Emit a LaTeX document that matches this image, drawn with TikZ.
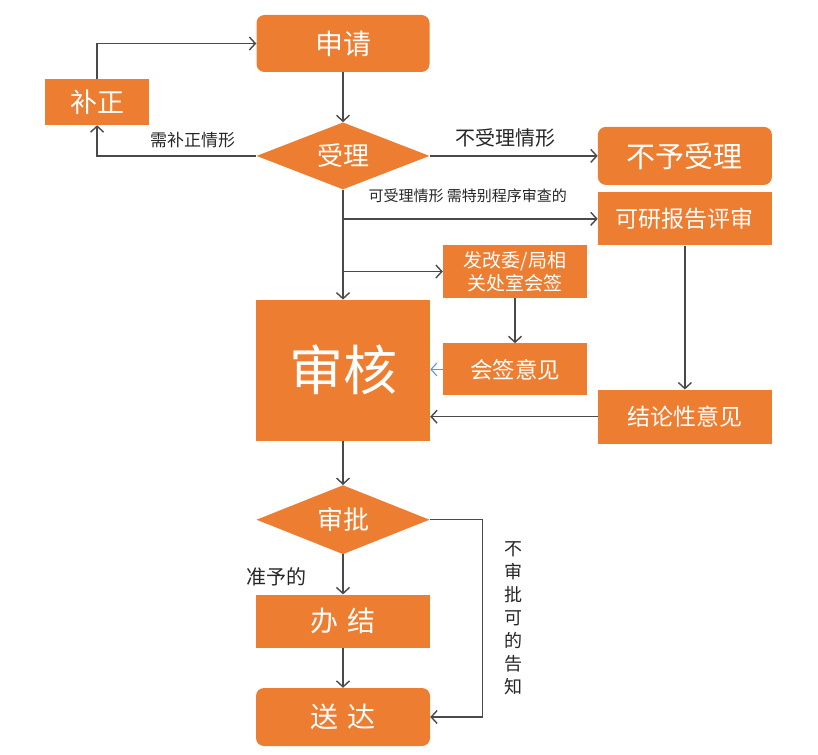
\documentclass[tikz,border=0pt]{standalone}
\usepackage{fontspec}
\setmainfont{Noto Sans CJK SC}
\usetikzlibrary{positioning, arrows.meta, shapes.geometric}

\definecolor{boxorange}{HTML}{ED7D31}
\definecolor{linegray}{HTML}{4A4A4A}
\definecolor{selblue}{HTML}{5B9BD5}

\begin{document}
\begin{tikzpicture}[
    x=1pt, y=1pt,
    node distance=50pt and 168pt,
    box/.style={fill=boxorange, text=white, minimum width=174pt, minimum height=53pt,
                inner sep=2pt, align=center, font=\fontsize{23}{26}\selectfont},
    rbox/.style={box, rounded corners=8pt},
    dia/.style={diamond, aspect=2.6, fill=boxorange, text=white, minimum width=173pt,
                minimum height=67pt, inner sep=0pt, font=\fontsize{26}{30}\selectfont},
    arr/.style={-{Straight Barb[length=6pt, width=13pt]}, draw=linegray, line width=1.4pt},
    lbl/.style={text=black!85, font=\fontsize{17}{19}\selectfont}
]
\useasboundingbox (0,0) rectangle (818,-754);

% main column
\node[rbox, minimum width=173pt, minimum height=57pt, font=\fontsize{28}{32}\selectfont] (shenqing) at (343,-43.5) {申请};
\node[dia, below=50pt of shenqing] (shouli) {受理};
\node[box, minimum width=104pt, minimum height=46pt, font=\fontsize{27}{30}\selectfont,
      left=107pt of shenqing, yshift=-58.5pt] (buzheng) {补正};
\node[rbox, minimum height=58pt, font=\fontsize{29}{32}\selectfont, right=168pt of shouli] (buyu) {不予受理};
\node[box, below=7pt of buyu] (keyan) {可研报告评审};
\node[box, minimum height=141pt, font=\fontsize{54}{60}\selectfont, below=110pt of shouli] (shenhe) {审核};
\node[box, minimum width=144pt, font=\fontsize{19}{23}\selectfont] (fagai) at (515,-271.5) {发改委/局相\\关处室会签};
\node[box, minimum width=144pt, minimum height=52pt, font=\fontsize{22.5}{25}\selectfont, below=45pt of fagai] (huiqian) {会签意见};
\node[box, minimum height=54pt, below=144pt of keyan] (jielun) {结论性意见};
\node[dia, minimum height=69pt, below=44pt of shenhe] (shenpi) {审批};
\node[box, font=\fontsize{28}{32}\selectfont, below=40pt of shenpi] (banjie) {办\hspace{9pt}结};
\node[rbox, minimum height=58pt, font=\fontsize{28}{32}\selectfont, below=40pt of banjie] (songda) {送\hspace{9pt}达};

% branch points
\coordinate (toKeyan) at (shouli.south |- keyan.west);
\coordinate (toFagai) at (shouli.south |- fagai.west);
\coordinate[right=53pt of shenpi.east] (turn);

% connectors
\draw[arr] (shenqing) -- (shouli);
\draw[arr] (buzheng.north) |- (shenqing.west);
\draw[arr] (shouli.west) -| node[pos=0.2, above=4pt, lbl]{需补正情形} (buzheng.south);
\draw[arr] (shouli) -- node[pos=0.45, above=5pt, lbl, font=\fontsize{20}{22}\selectfont]{不受理情形} (buyu);
\draw[arr] (toKeyan) -- node[pos=0.49, above=12pt, lbl, font=\fontsize{15}{16}\selectfont]{可受理情形 需特别程序审查的} (keyan.west);
\draw[arr] (toFagai) -- (fagai.west);
\draw[arr] (shouli) -- (shenhe);
\draw[arr] (fagai) -- (huiqian);
\draw[arr, draw=selblue, line width=1.1pt] (huiqian) -- (shenhe.east |- huiqian);
\draw[arr] (keyan) -- (jielun);
\draw[arr] (jielun) -- (shenhe.east |- jielun);
\draw[arr] (shenhe) -- (shenpi);
\draw[arr] (shenpi) -- node[pos=0.55, left=32pt, lbl, font=\fontsize{20}{22}\selectfont]{准予的} (banjie);
\draw[arr] (banjie) -- (songda);
\draw[arr] (shenpi.east) -- (turn) |- node[pos=0.25, right=18pt, lbl, align=center,
      font=\fontsize{18}{23}\selectfont]{不\\审\\批\\可\\的\\告\\知} (songda.east);
\end{tikzpicture}
\end{document}
